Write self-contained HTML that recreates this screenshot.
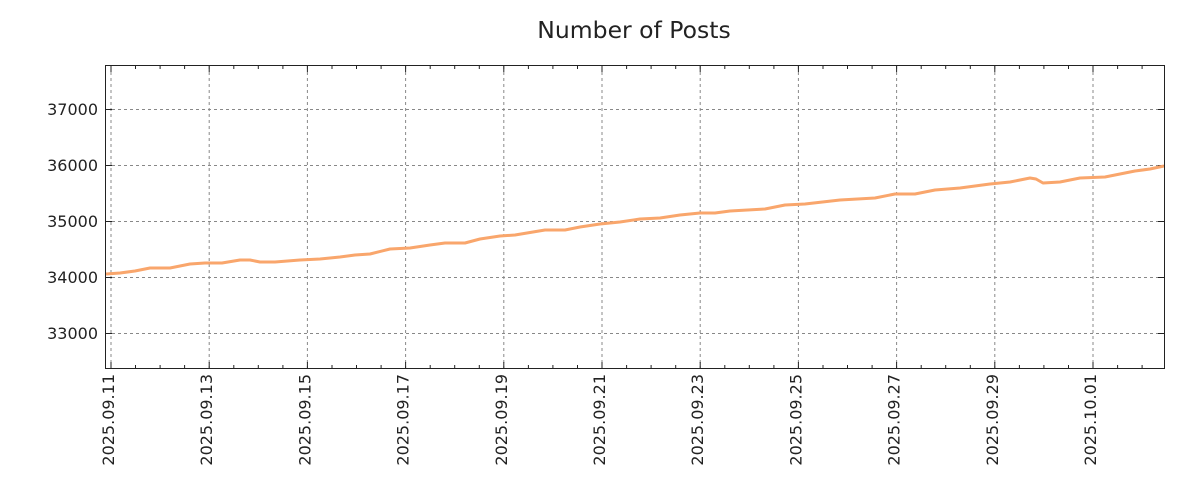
<!DOCTYPE html>
<html><head><meta charset="utf-8"><style>body{margin:0;background:#fff}svg{display:block}</style></head>
<body>
<svg width="1200" height="500" xmlns="http://www.w3.org/2000/svg" font-family="DejaVu Sans, Liberation Sans, sans-serif">
<rect width="1200" height="500" fill="#fff"/>
<text x="634" y="38" font-size="23.5" text-anchor="middle" fill="#222">Number of Posts</text>
<g stroke="#888" stroke-width="1" stroke-dasharray="3,3">
<line x1="106" x2="1164" y1="109.5" y2="109.5"/>
<line x1="106" x2="1164" y1="165.5" y2="165.5"/>
<line x1="106" x2="1164" y1="221.5" y2="221.5"/>
<line x1="106" x2="1164" y1="277.5" y2="277.5"/>
<line x1="106" x2="1164" y1="333.5" y2="333.5"/>
<line x1="111" x2="111" y1="66" y2="369"/>
<line x1="209.2" x2="209.2" y1="66" y2="369"/>
<line x1="307.4" x2="307.4" y1="66" y2="369"/>
<line x1="405.6" x2="405.6" y1="66" y2="369"/>
<line x1="503.8" x2="503.8" y1="66" y2="369"/>
<line x1="602" x2="602" y1="66" y2="369"/>
<line x1="700.2" x2="700.2" y1="66" y2="369"/>
<line x1="798.4" x2="798.4" y1="66" y2="369"/>
<line x1="896.6" x2="896.6" y1="66" y2="369"/>
<line x1="994.8" x2="994.8" y1="66" y2="369"/>
<line x1="1093" x2="1093" y1="66" y2="369"/>
</g>
<g stroke="#222" stroke-width="1">
<path d="M111,66v6M111,368v-6M209.2,66v6M209.2,368v-6M307.4,66v6M307.4,368v-6M405.6,66v6M405.6,368v-6M503.8,66v6M503.8,368v-6M602,66v6M602,368v-6M700.2,66v6M700.2,368v-6M798.4,66v6M798.4,368v-6M896.6,66v6M896.6,368v-6M994.8,66v6M994.8,368v-6M1093,66v6M1093,368v-6"/>
<path d="M135.5,66v3M135.5,368v-3M160.1,66v3M160.1,368v-3M184.6,66v3M184.6,368v-3M233.8,66v3M233.8,368v-3M258.3,66v3M258.3,368v-3M282.9,66v3M282.9,368v-3M332,66v3M332,368v-3M356.5,66v3M356.5,368v-3M381.1,66v3M381.1,368v-3M430.2,66v3M430.2,368v-3M454.7,66v3M454.7,368v-3M479.3,66v3M479.3,368v-3M528.4,66v3M528.4,368v-3M552.9,66v3M552.9,368v-3M577.5,66v3M577.5,368v-3M626.6,66v3M626.6,368v-3M651.1,66v3M651.1,368v-3M675.7,66v3M675.7,368v-3M724.8,66v3M724.8,368v-3M749.3,66v3M749.3,368v-3M773.9,66v3M773.9,368v-3M823,66v3M823,368v-3M847.5,66v3M847.5,368v-3M872.1,66v3M872.1,368v-3M921.2,66v3M921.2,368v-3M945.7,66v3M945.7,368v-3M970.3,66v3M970.3,368v-3M1019.4,66v3M1019.4,368v-3M1043.9,66v3M1043.9,368v-3M1068.5,66v3M1068.5,368v-3M1117.6,66v3M1117.6,368v-3M1142.1,66v3M1142.1,368v-3"/>
<path d="M106,109.5h6M1164,109.5h-6M106,165.5h6M1164,165.5h-6M106,221.5h6M1164,221.5h-6M106,277.5h6M1164,277.5h-6M106,333.5h6M1164,333.5h-6"/>
</g>
<polyline fill="none" stroke="#f9a66c" stroke-width="3" stroke-linejoin="round" points="106,274 120,273 135,271 150,268 170,268 190,264 205,263 222,263 240,260 250,260 260,262 275,262 300,260 320,259 340,257 355,255 370,254 390,249 410,248 430,245 445,243 465,243 480,239 500,236 515,235 545,230 565,230 580,227 600,224 620,222 640,219 660,218 680,215 700,213 715,213 730,211 765,209 785,205 805,204 840,200 875,198 895,194 915,194 935,190 960,188 990,184 1010,182 1030,178 1036,179 1043,183 1060,182 1080,178 1105,177 1120,174 1135,171 1150,169 1164,166"/>
<rect x="105.5" y="65.5" width="1059" height="303" fill="none" stroke="#222" stroke-width="1"/>
<g font-size="16" fill="#222" text-anchor="end">
<text x="98" y="115">37000</text>
<text x="98" y="171">36000</text>
<text x="98" y="227">35000</text>
<text x="98" y="283">34000</text>
<text x="98" y="339">33000</text>
</g>
<g font-size="16" fill="#222" text-anchor="end">
<text transform="translate(114,374) rotate(-90)">2025.09.11</text>
<text transform="translate(212.2,374) rotate(-90)">2025.09.13</text>
<text transform="translate(310.4,374) rotate(-90)">2025.09.15</text>
<text transform="translate(408.6,374) rotate(-90)">2025.09.17</text>
<text transform="translate(506.8,374) rotate(-90)">2025.09.19</text>
<text transform="translate(605,374) rotate(-90)">2025.09.21</text>
<text transform="translate(703.2,374) rotate(-90)">2025.09.23</text>
<text transform="translate(801.4,374) rotate(-90)">2025.09.25</text>
<text transform="translate(899.6,374) rotate(-90)">2025.09.27</text>
<text transform="translate(997.8,374) rotate(-90)">2025.09.29</text>
<text transform="translate(1096,374) rotate(-90)">2025.10.01</text>
</g>
</svg>
</body></html>
